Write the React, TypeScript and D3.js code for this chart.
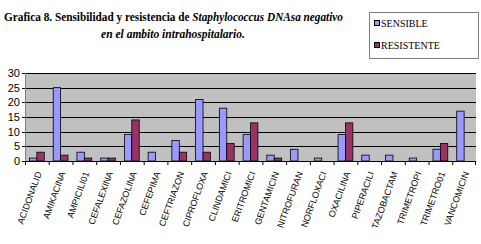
import React from "react";
import * as d3 from "d3";

const categories = ["ACIDONALID","AMIKACINA","AMPICILI01","CEFALEXINA","CEFAZOLINA","CEFEPIMA","CEFTRIAZON","CIPROFLOXA","CLINDAMICI","ERITROMICI","GENTAMICIN","NITROFURAN","NORFLOXACI","OXACILINA","PIPERACILI","TAZOBACTAM","TRIMETROPI","TRIMETRO01","VANCOMICIN"];
const sensible = [1,25,3,1,9,3,7,21,18,9,2,4,1,9,2,2,1,4,17];
const resistente = [3,2,1,1,14,0,3,3,6,13,1,0,0,13,0,0,0,6,0];
const yTicks = [0,5,10,15,20,25,30];
const seriesNames = ["SENSIBLE","RESISTENTE"];
const seriesColors = ["#9999FF","#993366"];

export default function App() {
  const W = 481, H = 244;
  const left = 25, right = 476, top = 73, bottom = 161;
  const x = d3.scaleBand<string>().domain(categories).range([left, right]);
  const y = d3.scaleLinear().domain([0, 30]).range([bottom, top]);
  const bw = 7.4;
  const series = [sensible, resistente];
  return (
    <svg width={W} height={H} style={{position:"absolute",left:0,top:0,background:"#fff"}}>
      <text x={4} y={21} textLength={339} lengthAdjust="spacingAndGlyphs" fontFamily="Liberation Serif" fontWeight="bold" fontSize={11.5} fill="#000">
        Grafica 8. Sensibilidad y resistencia de <tspan fontStyle="italic">Staphylococcus DNAsa negativo</tspan>
      </text>
      <text x={173} y={38} textAnchor="middle" fontFamily="Liberation Serif" fontWeight="bold" fontStyle="italic" fontSize={11.5} fill="#000">
        en el ambito intrahospitalario.
      </text>
      <rect x={369.5} y={12.5} width={109} height={46} fill="#fff" stroke="#808080" strokeWidth={1}/>
      {seriesNames.map((n, i) => (
        <g key={n}>
          <rect x={374.5} y={(i === 0 ? 20.5 : 42.5)} width={5} height={5} fill={seriesColors[i]} stroke="#000" strokeWidth={1}/>
          <text x={381} y={i === 0 ? 27 : 49} fontFamily="Liberation Serif" fontSize={10} fill="#000">{n}</text>
        </g>
      ))}
      <rect x={left} y={top} width={right-left} height={bottom-top} fill="#C0C0C0"/>
      {yTicks.map(t => (
        <g key={t}>
          <line x1={left} x2={right} y1={Math.round(y(t))+0.5} y2={Math.round(y(t))+0.5} stroke="#000" strokeWidth={1}/>
          <line x1={left-3} x2={left} y1={Math.round(y(t))+0.5} y2={Math.round(y(t))+0.5} stroke="#000"/>
          <text x={20} y={y(t)+4} textAnchor="end" fontFamily="Liberation Sans" fontSize={11} fill="#000">{t}</text>
        </g>
      ))}
      <line x1={left+0.5} x2={left+0.5} y1={top} y2={bottom} stroke="#808080"/>
      {categories.map((c, i) => {
        const cx = (x(c) as number) + x.bandwidth()/2;
        return (
          <g key={c}>
            {series.map((s, j) => s[i] > 0 ? (
              <rect key={j} x={cx - bw + j*bw} y={y(s[i])} width={bw} height={bottom - y(s[i])}
                fill={seriesColors[j]} stroke="#000" strokeWidth={0.8}/>
            ) : null)}
          </g>
        );
      })}
      {categories.map((c, i) => (
        <line key={"t"+c} x1={(x(c) as number)+0.5} x2={(x(c) as number)+0.5} y1={bottom} y2={bottom+4} stroke="#000"/>
      ))}
      <line x1={right-0.5} x2={right-0.5} y1={bottom} y2={bottom+4} stroke="#000"/>
      <line x1={left} x2={right} y1={bottom+0.5} y2={bottom+0.5} stroke="#000"/>
      {categories.map((c) => {
        const cx = (x(c) as number) + x.bandwidth()/2 + 5;
        return (
          <text key={"l"+c} transform={`translate(${cx},${bottom+12}) rotate(-70)`} textAnchor="end"
            fontFamily="Liberation Sans" fontSize={9} fill="#000">{c}</text>
        );
      })}
    </svg>
  );
}
